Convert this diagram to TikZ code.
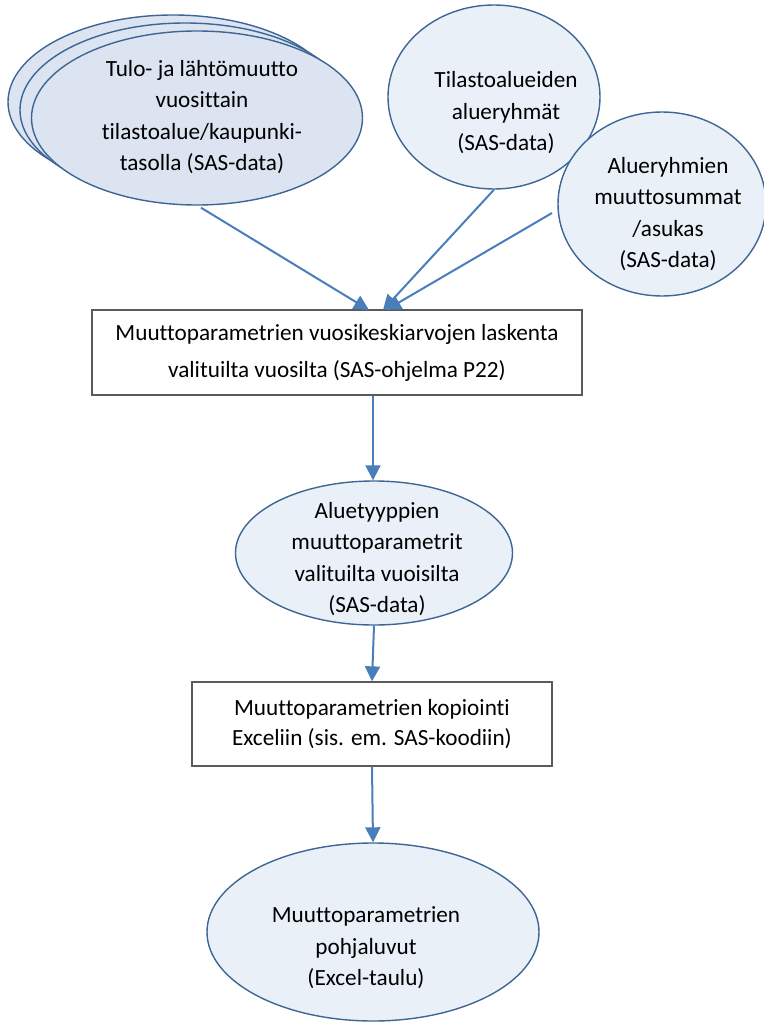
\documentclass[tikz,border=0pt]{standalone}
\usepackage{fontspec}
\setmainfont[Ligatures=NoCommon]{Carlito}
\usetikzlibrary{shapes.geometric,arrows.meta}
\definecolor{edgeblue}{HTML}{3E6695}
\definecolor{arrowblue}{HTML}{4A7EBB}
\definecolor{filldark}{HTML}{DBE4F0}
\definecolor{filllight}{HTML}{EAF0F8}
\definecolor{boxgray}{HTML}{5A5A5A}
\begin{document}
\begin{tikzpicture}[x=1pt,y=-1pt,
  every node/.style={font=\fontsize{23.2}{31.5}\selectfont, align=center},
  dataell/.style={ellipse, draw=edgeblue, line width=1.4pt, fill=filllight, inner sep=0pt},
  stackell/.style={dataell, fill=filldark},
  label text/.style={inner sep=0pt},
  procbox/.style={rectangle, draw=boxgray, line width=1.3pt, fill=white, inner sep=0pt},
  flow/.style={draw=arrowblue, line width=2pt, -{Triangle[length=15pt,width=15pt]}}]
\useasboundingbox (0,0) rectangle (763,1025);

% stacked data sets (multi-document)
\node[stackell, minimum width=330pt, minimum height=174pt] (tulo3) at (173,102) {};
\node[stackell, minimum width=330pt, minimum height=174pt] (tulo2) at (185,110) {};
\node[stackell, minimum width=331pt, minimum height=174pt] (tulo) at (197,118) {};
\node[label text] (tulotext) at (202,117)
  {Tulo- ja lähtömuutto\\vuosittain\\tilastoalue/kaupunki-\\tasolla (SAS-data)};

\node[dataell, minimum width=212pt, minimum height=184pt] (tila) at (494,97) {};
\node[label text] (tilatext) at (506,113) {Tilastoalueiden\\alueryhmät\\(SAS-data)};

\node[dataell, minimum width=208pt, minimum height=184pt] (summat) at (662,204) {};
\node[label text] (summattext) at (668,214) {Alueryhmien\\muuttosummat\\/asukas\\(SAS-data)};

\node[procbox, minimum width=490pt, minimum height=85pt, font=\fontsize{23.2}{37}\selectfont] (laskenta) at (337,352.5)
  {Muuttoparametrien vuosikeskiarvojen laskenta\\valituilta vuosilta (SAS-ohjelma P22)};

\node[dataell, minimum width=277pt, minimum height=144pt] (tyypit) at (374,553) {};
\node[label text] (tyypittext) at (377,559)
  {Aluetyyppien\\muuttoparametrit\\valituilta vuoisilta\\(SAS-data)};

\node[procbox, minimum width=360pt, minimum height=84pt, font=\fontsize{23.2}{30.5}\selectfont] (kopiointi) at (372,724)
  {Muuttoparametrien kopiointi\\Exceliin (sis. em. SAS-koodiin)};

\node[dataell, minimum width=332pt, minimum height=178pt] (pohja) at (373,932) {};
\node[label text] (pohjatext) at (366,948) {Muuttoparametrien\\pohjaluvut\\(Excel-taulu)};

% connectors
\coordinate (inA) at (369,310);
\coordinate (inB) at (383,310);
\coordinate (inC) at (386,310);
\path (tulo.south) ++(4,2) coordinate (outA);
\draw[flow] (outA) -- (inA);
\draw[flow] (tila.south) -- (inB);
\coordinate (outC) at (552,213);
\draw[flow] (outC) -- (inC);
\draw[flow] (laskenta.south -| 373,0) -- (tyypit.north -| 373,0);
\draw[flow] (tyypit.south) -- (kopiointi.north);
\draw[flow] (kopiointi.south) -- (pohja.north);
\end{tikzpicture}
\end{document}
